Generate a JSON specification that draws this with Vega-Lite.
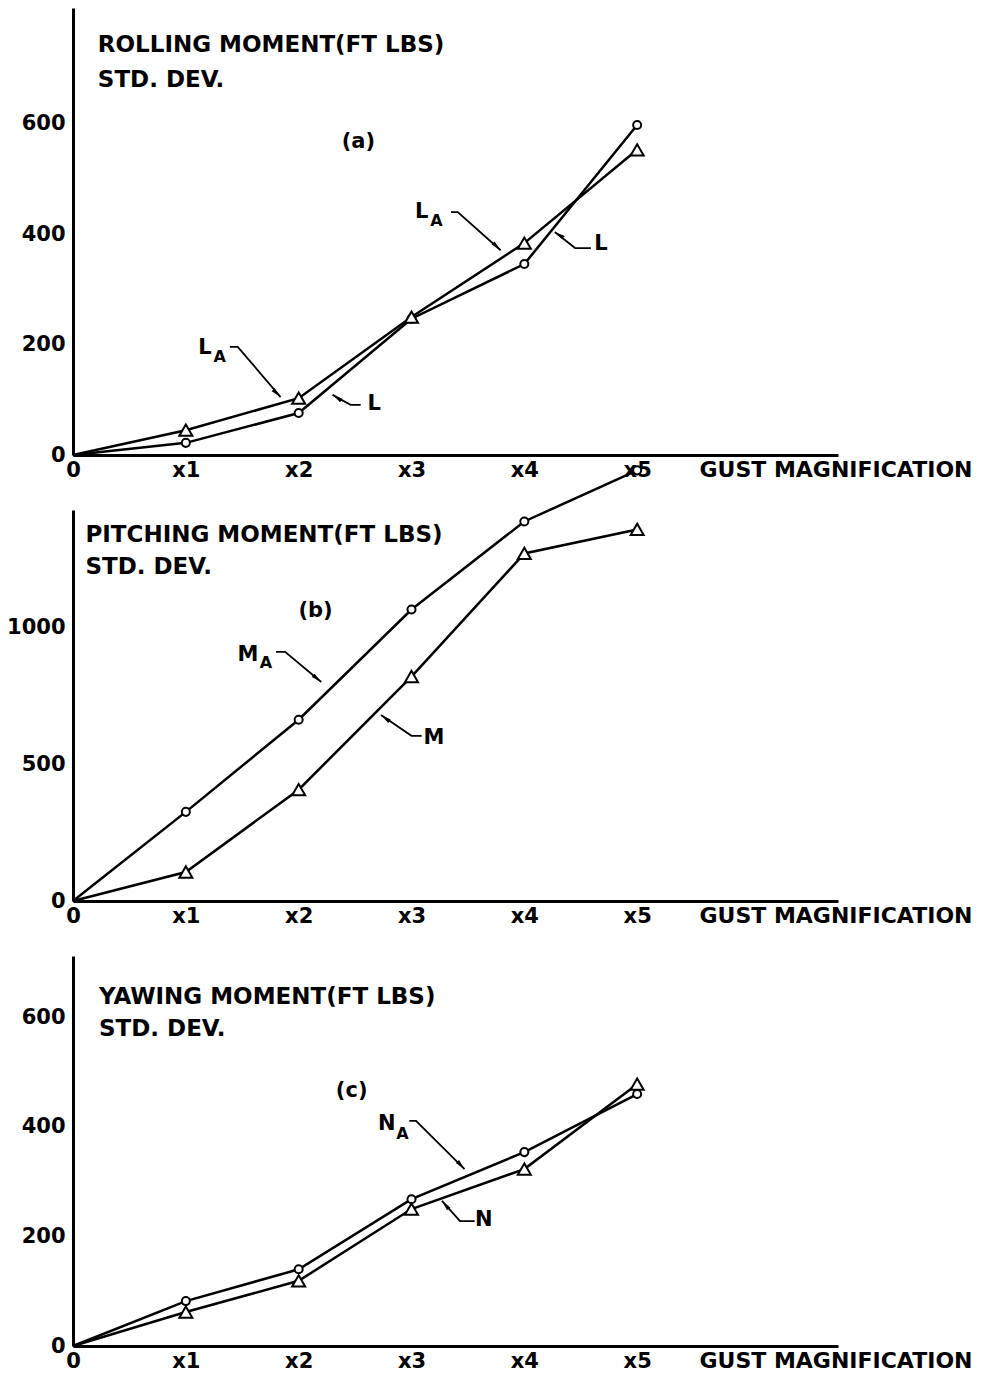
{
  "$schema": "https://vega.github.io/schema/vega-lite/v6.json",
  "padding": {"left": 6, "top": 8, "right": 0, "bottom": 0},
  "bounds": "flush",
  "spacing": 55,
  "background": "white",
  "resolve": {"scale": {"shape": "independent", "size": "independent"}},
  "config": {
    "view": {"stroke": null},
    "font": "DejaVu Sans",
    "axis": {
      "domainColor": "black", "domainWidth": 3, "ticks": false, "grid": false,
      "labelFont": "DejaVu Sans", "labelFontWeight": "bold", "labelFontSize": 21, "labelColor": "black",
      "labelPadding": 8, "labelFlush": false, "labelOverlap": false,
      "titleFont": "DejaVu Sans", "titleFontWeight": "bold", "titleFontSize": 22, "titleColor": "black"
    }
  },
  "datasets": {
    "curves": [
      {"panel": "a", "series": "L", "x": 0, "y": 0},
      {"panel": "a", "series": "L", "x": 1, "y": 22},
      {"panel": "a", "series": "L", "x": 2, "y": 76},
      {"panel": "a", "series": "L", "x": 3, "y": 247},
      {"panel": "a", "series": "L", "x": 4, "y": 346},
      {"panel": "a", "series": "L", "x": 5, "y": 598},
      {"panel": "a", "series": "L_A", "x": 0, "y": 0},
      {"panel": "a", "series": "L_A", "x": 1, "y": 45},
      {"panel": "a", "series": "L_A", "x": 2, "y": 103},
      {"panel": "a", "series": "L_A", "x": 3, "y": 250},
      {"panel": "a", "series": "L_A", "x": 4, "y": 384},
      {"panel": "a", "series": "L_A", "x": 5, "y": 553},
      {"panel": "b", "series": "M_A", "x": 0, "y": 0},
      {"panel": "b", "series": "M_A", "x": 1, "y": 326},
      {"panel": "b", "series": "M_A", "x": 2, "y": 663},
      {"panel": "b", "series": "M_A", "x": 3, "y": 1066},
      {"panel": "b", "series": "M_A", "x": 4, "y": 1388},
      {"panel": "b", "series": "M_A", "x": 5, "y": 1575},
      {"panel": "b", "series": "M", "x": 0, "y": 0},
      {"panel": "b", "series": "M", "x": 1, "y": 106},
      {"panel": "b", "series": "M", "x": 2, "y": 407},
      {"panel": "b", "series": "M", "x": 3, "y": 821},
      {"panel": "b", "series": "M", "x": 4, "y": 1271},
      {"panel": "b", "series": "M", "x": 5, "y": 1359},
      {"panel": "c", "series": "N_A", "x": 0, "y": 0},
      {"panel": "c", "series": "N_A", "x": 1, "y": 82},
      {"panel": "c", "series": "N_A", "x": 2, "y": 140},
      {"panel": "c", "series": "N_A", "x": 3, "y": 268},
      {"panel": "c", "series": "N_A", "x": 4, "y": 354},
      {"panel": "c", "series": "N_A", "x": 5, "y": 460},
      {"panel": "c", "series": "N", "x": 0, "y": 0},
      {"panel": "c", "series": "N", "x": 1, "y": 62},
      {"panel": "c", "series": "N", "x": 2, "y": 119},
      {"panel": "c", "series": "N", "x": 3, "y": 250},
      {"panel": "c", "series": "N", "x": 4, "y": 323},
      {"panel": "c", "series": "N", "x": 5, "y": 478}
    ],
    "texts": [
      {"panel": "a", "role": "title", "text": "ROLLING  MOMENT(FT LBS)", "x": 0.22, "y": 743},
      {"panel": "a", "role": "title", "text": "STD. DEV.", "x": 0.22, "y": 679},
      {"panel": "a", "role": "label", "text": "(a)", "x": 2.53, "y": 567},
      {"panel": "a", "role": "label", "text": "L", "x": 1.17, "y": 194},
      {"panel": "a", "role": "sub", "text": "A", "x": 1.3, "y": 178},
      {"panel": "a", "role": "label", "text": "L", "x": 2.67, "y": 92},
      {"panel": "a", "role": "label", "text": "L", "x": 3.09, "y": 440},
      {"panel": "a", "role": "sub", "text": "A", "x": 3.22, "y": 424},
      {"panel": "a", "role": "label", "text": "L", "x": 4.68, "y": 382},
      {"panel": "b", "role": "title", "text": "PITCHING  MOMENT(FT LBS)", "x": 0.11, "y": 1339},
      {"panel": "b", "role": "title", "text": "STD. DEV.", "x": 0.11, "y": 1222},
      {"panel": "b", "role": "label", "text": "(b)", "x": 2.15, "y": 1061},
      {"panel": "b", "role": "label", "text": "M", "x": 1.55, "y": 900},
      {"panel": "b", "role": "sub", "text": "A", "x": 1.71, "y": 872},
      {"panel": "b", "role": "label", "text": "M", "x": 3.2, "y": 596},
      {"panel": "c", "role": "title", "text": "YAWING  MOMENT(FT LBS)", "x": 0.23, "y": 637},
      {"panel": "c", "role": "title", "text": "STD. DEV.", "x": 0.23, "y": 578},
      {"panel": "c", "role": "label", "text": "(c)", "x": 2.47, "y": 465},
      {"panel": "c", "role": "label", "text": "N", "x": 2.78, "y": 405},
      {"panel": "c", "role": "sub", "text": "A", "x": 2.92, "y": 387},
      {"panel": "c", "role": "label", "text": "N", "x": 3.64, "y": 230}
    ],
    "leaders": [
      {"panel": "a", "id": "LA1", "k": 1, "x": 1.39, "y": 196},
      {"panel": "a", "id": "LA1", "k": 2, "x": 1.46, "y": 196},
      {"panel": "a", "id": "LA1", "k": 3, "x": 1.84, "y": 105},
      {"panel": "a", "id": "L1", "k": 1, "x": 2.55, "y": 91},
      {"panel": "a", "id": "L1", "k": 2, "x": 2.46, "y": 91},
      {"panel": "a", "id": "L1", "k": 3, "x": 2.3, "y": 109},
      {"panel": "a", "id": "LA2", "k": 1, "x": 3.35, "y": 440},
      {"panel": "a", "id": "LA2", "k": 2, "x": 3.41, "y": 440},
      {"panel": "a", "id": "LA2", "k": 3, "x": 3.79, "y": 371},
      {"panel": "a", "id": "L2", "k": 1, "x": 4.59, "y": 375},
      {"panel": "a", "id": "L2", "k": 2, "x": 4.45, "y": 375},
      {"panel": "a", "id": "L2", "k": 3, "x": 4.27, "y": 404},
      {"panel": "b", "id": "MA", "k": 1, "x": 1.8, "y": 911},
      {"panel": "b", "id": "MA", "k": 2, "x": 1.88, "y": 911},
      {"panel": "b", "id": "MA", "k": 3, "x": 2.2, "y": 801},
      {"panel": "b", "id": "M", "k": 1, "x": 3.09, "y": 604},
      {"panel": "b", "id": "M", "k": 2, "x": 3.0, "y": 604},
      {"panel": "b", "id": "M", "k": 3, "x": 2.73, "y": 680},
      {"panel": "c", "id": "NA", "k": 1, "x": 2.98, "y": 411},
      {"panel": "c", "id": "NA", "k": 2, "x": 3.04, "y": 411},
      {"panel": "c", "id": "NA", "k": 3, "x": 3.47, "y": 323},
      {"panel": "c", "id": "N", "k": 1, "x": 3.56, "y": 228},
      {"panel": "c", "id": "N", "k": 2, "x": 3.43, "y": 228},
      {"panel": "c", "id": "N", "k": 3, "x": 3.27, "y": 265}
    ],
    "tips": [
      {"panel": "a", "dir": "down", "x": 1.84, "y": 105},
      {"panel": "a", "dir": "up", "x": 2.3, "y": 109},
      {"panel": "a", "dir": "down", "x": 3.79, "y": 371},
      {"panel": "a", "dir": "up", "x": 4.27, "y": 404},
      {"panel": "b", "dir": "down", "x": 2.2, "y": 801},
      {"panel": "b", "dir": "up", "x": 2.73, "y": 680},
      {"panel": "c", "dir": "down", "x": 3.47, "y": 323},
      {"panel": "c", "dir": "up", "x": 3.27, "y": 265}
    ]
  },
  "vconcat": [
    {
      "width": 765, "height": 447,
      "encoding": {
        "x": {"field": "x", "type": "quantitative", "scale": {"domain": [0, 6.78], "nice": false, "zero": false},
              "axis": {"values": [0, 1, 2, 3, 4, 5], "labelExpr": "datum.value == 0 ? '0' : 'x' + datum.value", "labelPadding": 4,
                       "title": "GUST  MAGNIFICATION", "titleX": 626, "titleY": 4, "titleAlign": "left", "titleAnchor": "start", "titleBaseline": "top"}},
        "y": {"field": "y", "type": "quantitative", "scale": {"domain": [0, 810], "nice": false, "zero": false},
              "axis": {"values": [0, 200, 400, 600], "format": "d", "title": null}}
      },
      "layer": [
        {"data": {"name": "curves"}, "transform": [{"filter": "datum.panel === 'a'"}],
         "mark": {"type": "line", "color": "black", "strokeWidth": 2.5},
         "encoding": {"detail": {"field": "series"}}},
        {"data": {"name": "curves"}, "transform": [{"filter": "datum.panel === 'a' && datum.x > 0"}],
         "mark": {"type": "point", "filled": true, "fill": "white", "stroke": "black", "strokeWidth": 2, "opacity": 1},
         "encoding": {
           "shape": {"field": "series", "type": "nominal", "scale": {"domain": ["L", "L_A"], "range": ["circle", "triangle-up"]}, "legend": null},
           "size": {"field": "series", "type": "ordinal", "scale": {"domain": ["L", "L_A"], "range": [65, 170]}, "legend": null}}},
        {"data": {"name": "leaders"}, "transform": [{"filter": "datum.panel === 'a'"}],
         "mark": {"type": "line", "color": "black", "strokeWidth": 1.8},
         "encoding": {"detail": {"field": "id"}, "order": {"field": "k"}}},
        {"data": {"name": "tips"}, "transform": [{"filter": "datum.panel === 'a' && datum.dir === 'down'"}],
         "mark": {"type": "point", "shape": "M0,0L0.45,2.2L-0.45,2.2Z", "filled": true, "color": "black", "opacity": 1, "size": 90, "angle": 134}},
        {"data": {"name": "tips"}, "transform": [{"filter": "datum.panel === 'a' && datum.dir === 'up'"}],
         "mark": {"type": "point", "shape": "M0,0L0.45,2.2L-0.45,2.2Z", "filled": true, "color": "black", "opacity": 1, "size": 90, "angle": -57}},
        {"data": {"name": "texts"}, "transform": [{"filter": "datum.panel === 'a' && datum.role === 'title'"}],
         "mark": {"type": "text", "align": "left", "baseline": "middle", "font": "DejaVu Sans", "fontWeight": "bold", "fontSize": 23, "color": "black"},
         "encoding": {"text": {"field": "text"}}},
        {"data": {"name": "texts"}, "transform": [{"filter": "datum.panel === 'a' && datum.role === 'label'"}],
         "mark": {"type": "text", "align": "center", "baseline": "middle", "font": "DejaVu Sans", "fontWeight": "bold", "fontSize": 21, "color": "black"},
         "encoding": {"text": {"field": "text"}}},
        {"data": {"name": "texts"}, "transform": [{"filter": "datum.panel === 'a' && datum.role === 'sub'"}],
         "mark": {"type": "text", "align": "center", "baseline": "middle", "font": "DejaVu Sans", "fontWeight": "bold", "fontSize": 16, "color": "black"},
         "encoding": {"text": {"field": "text"}}}
      ]
    },
    {
      "width": 765, "height": 391,
      "encoding": {
        "x": {"field": "x", "type": "quantitative", "scale": {"domain": [0, 6.78], "nice": false, "zero": false},
              "axis": {"values": [0, 1, 2, 3, 4, 5], "labelExpr": "datum.value == 0 ? '0' : 'x' + datum.value", "labelPadding": 4,
                       "title": "GUST  MAGNIFICATION", "titleX": 626, "titleY": 4, "titleAlign": "left", "titleAnchor": "start", "titleBaseline": "top"}},
        "y": {"field": "y", "type": "quantitative", "scale": {"domain": [0, 1430], "nice": false, "zero": false},
              "axis": {"values": [0, 500, 1000], "format": "d", "title": null}}
      },
      "layer": [
        {"data": {"name": "curves"}, "transform": [{"filter": "datum.panel === 'b'"}],
         "mark": {"type": "line", "color": "black", "strokeWidth": 2.5},
         "encoding": {"detail": {"field": "series"}}},
        {"data": {"name": "curves"}, "transform": [{"filter": "datum.panel === 'b' && datum.x > 0"}],
         "mark": {"type": "point", "filled": true, "fill": "white", "stroke": "black", "strokeWidth": 2, "opacity": 1},
         "encoding": {
           "shape": {"field": "series", "type": "nominal", "scale": {"domain": ["M_A", "M"], "range": ["circle", "triangle-up"]}, "legend": null},
           "size": {"field": "series", "type": "ordinal", "scale": {"domain": ["M_A", "M"], "range": [65, 170]}, "legend": null}}},
        {"data": {"name": "leaders"}, "transform": [{"filter": "datum.panel === 'b'"}],
         "mark": {"type": "line", "color": "black", "strokeWidth": 1.8},
         "encoding": {"detail": {"field": "id"}, "order": {"field": "k"}}},
        {"data": {"name": "tips"}, "transform": [{"filter": "datum.panel === 'b' && datum.dir === 'down'"}],
         "mark": {"type": "point", "shape": "M0,0L0.45,2.2L-0.45,2.2Z", "filled": true, "color": "black", "opacity": 1, "size": 90, "angle": 130}},
        {"data": {"name": "tips"}, "transform": [{"filter": "datum.panel === 'b' && datum.dir === 'up'"}],
         "mark": {"type": "point", "shape": "M0,0L0.45,2.2L-0.45,2.2Z", "filled": true, "color": "black", "opacity": 1, "size": 90, "angle": -54}},
        {"data": {"name": "texts"}, "transform": [{"filter": "datum.panel === 'b' && datum.role === 'title'"}],
         "mark": {"type": "text", "align": "left", "baseline": "middle", "font": "DejaVu Sans", "fontWeight": "bold", "fontSize": 23, "color": "black"},
         "encoding": {"text": {"field": "text"}}},
        {"data": {"name": "texts"}, "transform": [{"filter": "datum.panel === 'b' && datum.role === 'label'"}],
         "mark": {"type": "text", "align": "center", "baseline": "middle", "font": "DejaVu Sans", "fontWeight": "bold", "fontSize": 21, "color": "black"},
         "encoding": {"text": {"field": "text"}}},
        {"data": {"name": "texts"}, "transform": [{"filter": "datum.panel === 'b' && datum.role === 'sub'"}],
         "mark": {"type": "text", "align": "center", "baseline": "middle", "font": "DejaVu Sans", "fontWeight": "bold", "fontSize": 16, "color": "black"},
         "encoding": {"text": {"field": "text"}}}
      ]
    },
    {
      "width": 765, "height": 390,
      "encoding": {
        "x": {"field": "x", "type": "quantitative", "scale": {"domain": [0, 6.78], "nice": false, "zero": false},
              "axis": {"values": [0, 1, 2, 3, 4, 5], "labelExpr": "datum.value == 0 ? '0' : 'x' + datum.value", "labelPadding": 4,
                       "title": "GUST  MAGNIFICATION", "titleX": 626, "titleY": 4, "titleAlign": "left", "titleAnchor": "start", "titleBaseline": "top"}},
        "y": {"field": "y", "type": "quantitative", "scale": {"domain": [0, 712], "nice": false, "zero": false},
              "axis": {"values": [0, 200, 400, 600], "format": "d", "title": null}}
      },
      "layer": [
        {"data": {"name": "curves"}, "transform": [{"filter": "datum.panel === 'c'"}],
         "mark": {"type": "line", "color": "black", "strokeWidth": 2.5},
         "encoding": {"detail": {"field": "series"}}},
        {"data": {"name": "curves"}, "transform": [{"filter": "datum.panel === 'c' && datum.x > 0"}],
         "mark": {"type": "point", "filled": true, "fill": "white", "stroke": "black", "strokeWidth": 2, "opacity": 1},
         "encoding": {
           "shape": {"field": "series", "type": "nominal", "scale": {"domain": ["N_A", "N"], "range": ["circle", "triangle-up"]}, "legend": null},
           "size": {"field": "series", "type": "ordinal", "scale": {"domain": ["N_A", "N"], "range": [65, 170]}, "legend": null}}},
        {"data": {"name": "leaders"}, "transform": [{"filter": "datum.panel === 'c'"}],
         "mark": {"type": "line", "color": "black", "strokeWidth": 1.8},
         "encoding": {"detail": {"field": "id"}, "order": {"field": "k"}}},
        {"data": {"name": "tips"}, "transform": [{"filter": "datum.panel === 'c' && datum.dir === 'down'"}],
         "mark": {"type": "point", "shape": "M0,0L0.45,2.2L-0.45,2.2Z", "filled": true, "color": "black", "opacity": 1, "size": 90, "angle": 137}},
        {"data": {"name": "tips"}, "transform": [{"filter": "datum.panel === 'c' && datum.dir === 'up'"}],
         "mark": {"type": "point", "shape": "M0,0L0.45,2.2L-0.45,2.2Z", "filled": true, "color": "black", "opacity": 1, "size": 90, "angle": -40}},
        {"data": {"name": "texts"}, "transform": [{"filter": "datum.panel === 'c' && datum.role === 'title'"}],
         "mark": {"type": "text", "align": "left", "baseline": "middle", "font": "DejaVu Sans", "fontWeight": "bold", "fontSize": 23, "color": "black"},
         "encoding": {"text": {"field": "text"}}},
        {"data": {"name": "texts"}, "transform": [{"filter": "datum.panel === 'c' && datum.role === 'label'"}],
         "mark": {"type": "text", "align": "center", "baseline": "middle", "font": "DejaVu Sans", "fontWeight": "bold", "fontSize": 21, "color": "black"},
         "encoding": {"text": {"field": "text"}}},
        {"data": {"name": "texts"}, "transform": [{"filter": "datum.panel === 'c' && datum.role === 'sub'"}],
         "mark": {"type": "text", "align": "center", "baseline": "middle", "font": "DejaVu Sans", "fontWeight": "bold", "fontSize": 16, "color": "black"},
         "encoding": {"text": {"field": "text"}}}
      ]
    }
  ]
}
